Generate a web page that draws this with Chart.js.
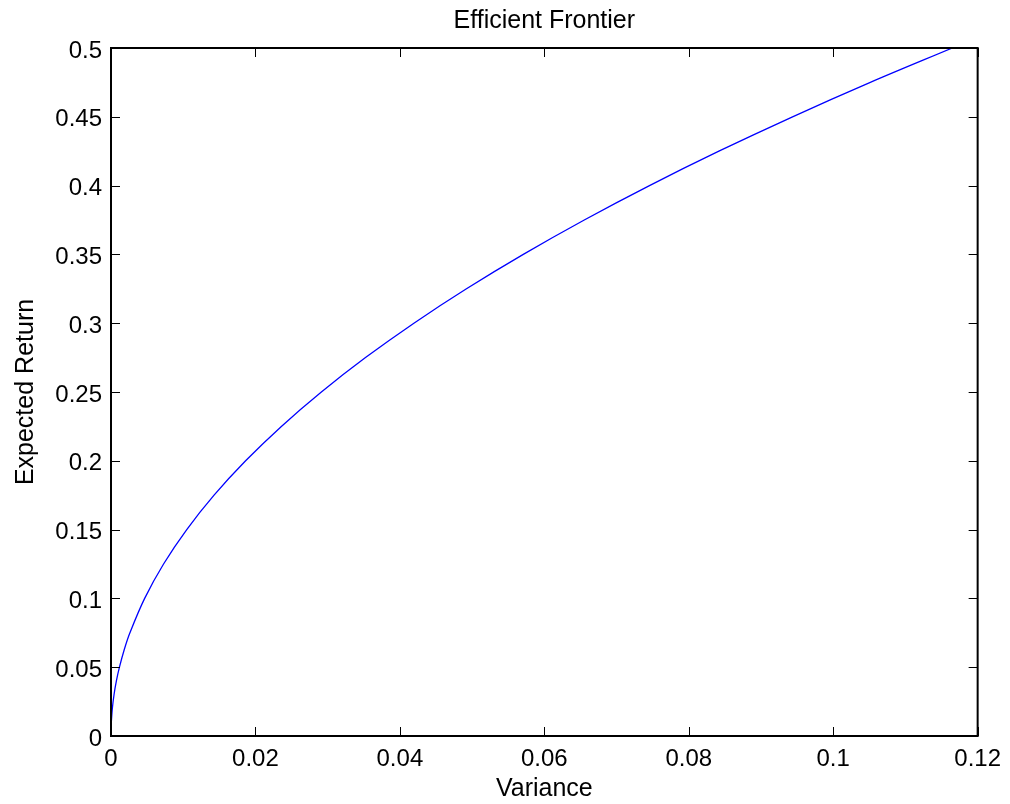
<!DOCTYPE html>
<html>
<head>
<meta charset="utf-8">
<script src="https://cdn.jsdelivr.net/npm/chart.js@4/dist/chart.umd.min.js"></script>
<style>
  html, body { margin: 0; padding: 0; background: #fff; }
  #wrap { width: 1010px; height: 804px; }
</style>
</head>
<body>
<div id="wrap"><canvas id="frontier" width="1010" height="804"></canvas></div>
<script>
// ==================== EFFICIENT FRONTIER ====================
const chartTitle = 'Efficient Frontier';
const xLabel = 'Variance';
const yLabel = 'Expected Return';

// points (variance, expected return)
const variances = [
    0, 0.0000117, 0.0000466, 0.000186, 0.000419, 0.000746, 0.00117, 0.00182,
    0.00262, 0.00466, 0.00728, 0.01049, 0.01427, 0.01864, 0.02359, 0.02913,
    0.03524, 0.04194, 0.04922, 0.05709, 0.06553, 0.07456, 0.08417, 0.09437,
    0.10514, 0.1165
];
const returns = [
    0, 0.005, 0.01, 0.02, 0.03, 0.04, 0.05, 0.0625,
    0.075, 0.1, 0.125, 0.15, 0.175, 0.2, 0.225, 0.25,
    0.275, 0.3, 0.325, 0.35, 0.375, 0.4, 0.425, 0.45,
    0.475, 0.5
];

const xMin = 0, xMax = 0.12, xStep = 0.02;
const yMin = 0, yMax = 0.5, yStep = 0.05;

const FONT = '"Liberation Sans", Arial, Helvetica, sans-serif';
const fmt = v => String(+Number(v).toFixed(4));

// MATLAB-like box with inward ticks on all four sides
const boxTicks = {
    id: 'boxTicks',
    afterDraw(chart) {
        const { ctx, chartArea: a, scales } = chart;
        const len = 9;
        ctx.save();
        ctx.strokeStyle = '#000';
        ctx.lineWidth = 1;
        scales.x.ticks.forEach(t => {
            const px = Math.round(scales.x.getPixelForValue(t.value)) + 0.5;
            ctx.beginPath();
            ctx.moveTo(px, a.bottom); ctx.lineTo(px, a.bottom - len);
            ctx.moveTo(px, a.top); ctx.lineTo(px, a.top + len);
            ctx.stroke();
        });
        scales.y.ticks.forEach(t => {
            const py = Math.round(scales.y.getPixelForValue(t.value)) + 0.5;
            ctx.beginPath();
            ctx.moveTo(a.left, py); ctx.lineTo(a.left + len, py);
            ctx.moveTo(a.right, py); ctx.lineTo(a.right - len, py);
            ctx.stroke();
        });
        ctx.lineWidth = 2;
        ctx.strokeRect(a.left, a.top, a.right - a.left, a.bottom - a.top);
        // title
        ctx.fillStyle = '#000';
        ctx.font = '25px ' + FONT;
        ctx.textAlign = 'center';
        ctx.textBaseline = 'alphabetic';
        ctx.fillText(chartTitle, (a.left + a.right) / 2, 28);
        ctx.restore();
    }
};

const ctx = document.getElementById('frontier').getContext('2d');
window.frontierChart = new Chart(ctx, {
    type: 'line',
    data: {
        datasets: [{
            data: variances.map((v, i) => ({ x: v, y: returns[i] })),
            borderColor: '#0000ff',
            borderWidth: 1.3,
            pointRadius: 0,
            tension: 0.35,
            fill: false
        }]
    },
    options: {
        responsive: false,
        animation: false,
        layout: { padding: { top: 48, right: 32, left: 0, bottom: 0 } },
        plugins: {
            legend: { display: false },
            tooltip: { enabled: false }
        },
        scales: {
            x: {
                type: 'linear',
                min: xMin, max: xMax,
                grid: { display: false, drawTicks: false },
                border: { display: false },
                ticks: {
                    stepSize: xStep,
                    padding: 9,
                    color: '#000',
                    font: { family: FONT, size: 24 },
                    maxRotation: 0,
                    callback: fmt
                },
                title: {
                    display: true, text: xLabel, color: '#000',
                    font: { family: FONT, size: 25 },
                    padding: { top: 0, bottom: 0 }
                },
                afterFit(s) { s.height = 68; }
            },
            y: {
                type: 'linear',
                min: yMin, max: yMax,
                grid: { display: false, drawTicks: false },
                border: { display: false },
                ticks: {
                    stepSize: yStep,
                    padding: 9,
                    labelOffset: 3,
                    color: '#000',
                    font: { family: FONT, size: 24 },
                    callback: fmt
                },
                title: {
                    display: true, text: yLabel, color: '#000',
                    font: { family: FONT, size: 25 },
                    padding: { top: 11, bottom: 0 }
                },
                afterFit(s) { s.width = 111; }
            }
        }
    },
    plugins: [boxTicks]
});
</script>
</body>
</html>
